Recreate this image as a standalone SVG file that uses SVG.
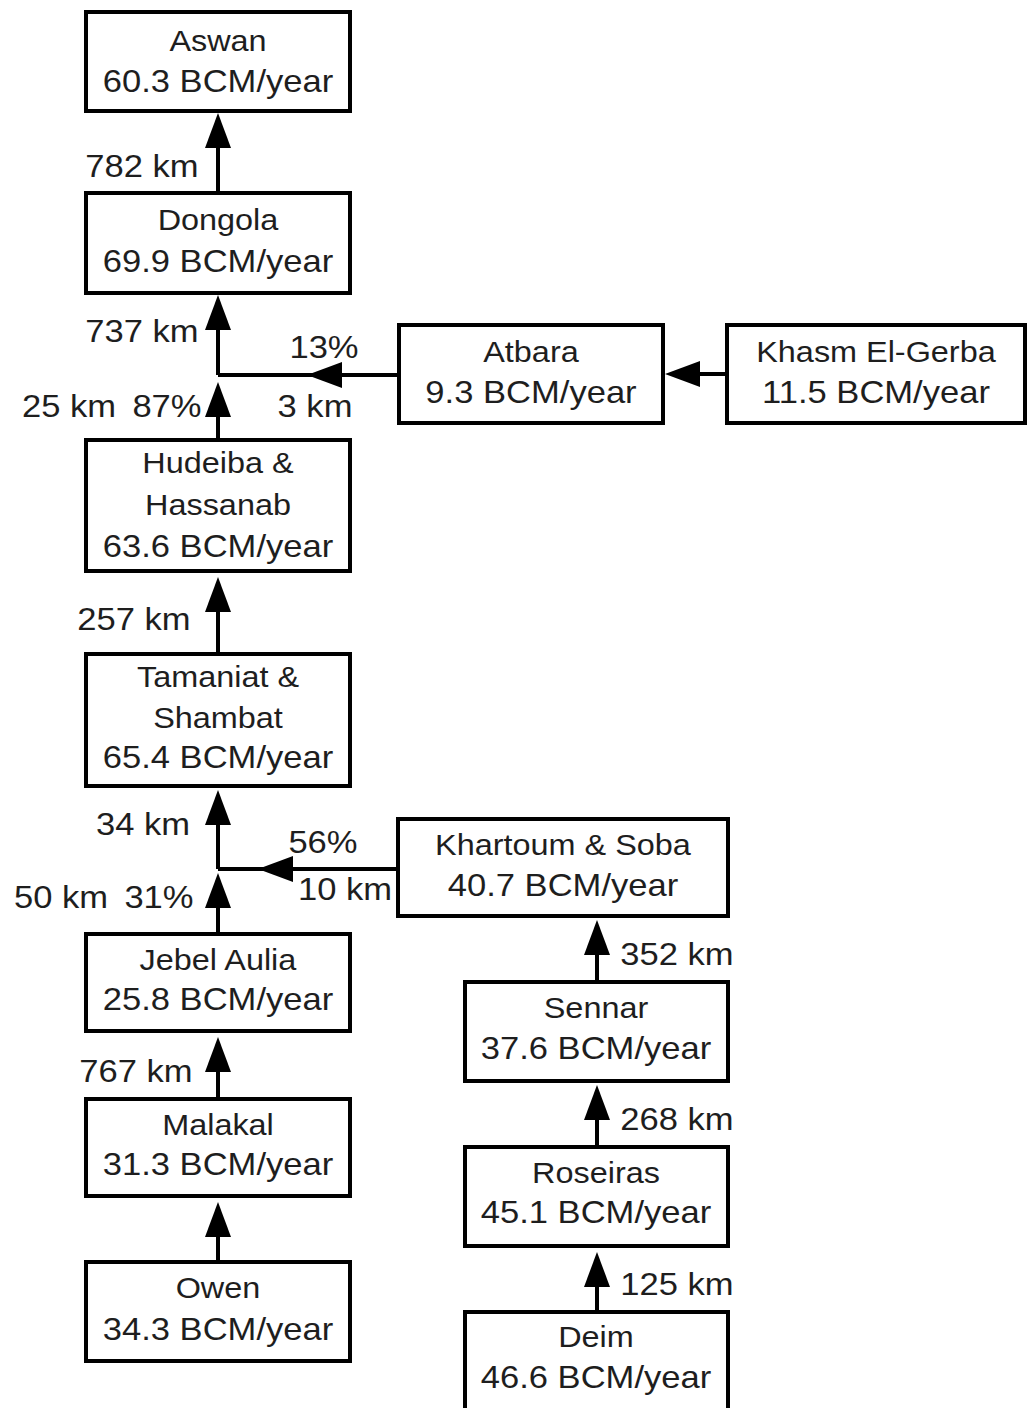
<svg xmlns="http://www.w3.org/2000/svg" width="1032" height="1408" viewBox="0 0 1032 1408">
<style>
  .box { fill: #ffffff; stroke: #000000; stroke-width: 4; }
  .ln { fill: none; stroke: #000000; stroke-width: 4; }
  text { font-family: "Liberation Sans", Arial, sans-serif; fill: #1e1e1e; transform-box: fill-box; transform-origin: center; transform: scaleX(1.08); }
  .nm { font-size: 30px; text-anchor: middle; }
  .val { font-size: 32px; text-anchor: middle; }
  .lbl { font-size: 32px; text-anchor: middle; }
</style>
<defs>
  <marker id="ah" viewBox="0 0 35 26" refX="0" refY="13" markerWidth="35" markerHeight="26" markerUnits="userSpaceOnUse" orient="auto">
    <path d="M0,0 L35,13 L0,26 z" fill="#000000"/>
  </marker>
</defs>
<rect width="1032" height="1408" fill="#ffffff"/>

<g id="connectors">
  <path class="ln" d="M218,191 L218,148" marker-end="url(#ah)"/>
  <path class="ln" d="M218,375 L218,330" marker-end="url(#ah)"/>
  <path class="ln" d="M218,438 L218,417" marker-end="url(#ah)"/>
  <path class="ln" d="M397,375 L342,375 L218,375" marker-mid="url(#ah)"/>
  <path class="ln" d="M725,374 L700,374" marker-end="url(#ah)"/>
  <path class="ln" d="M218,652 L218,612" marker-end="url(#ah)"/>
  <path class="ln" d="M218,869 L218,825" marker-end="url(#ah)"/>
  <path class="ln" d="M218,932 L218,908" marker-end="url(#ah)"/>
  <path class="ln" d="M396,869 L293,869 L218,869" marker-mid="url(#ah)"/>
  <path class="ln" d="M218,1097 L218,1072" marker-end="url(#ah)"/>
  <path class="ln" d="M218,1260 L218,1237" marker-end="url(#ah)"/>
  <path class="ln" d="M597,980 L597,955" marker-end="url(#ah)"/>
  <path class="ln" d="M597,1145 L597,1120" marker-end="url(#ah)"/>
  <path class="ln" d="M597,1310 L597,1287" marker-end="url(#ah)"/>
  <text class="lbl" x="142" y="177">782 km</text>
  <text class="lbl" x="142" y="342">737 km</text>
  <text class="lbl" x="324" y="358">13%</text>
  <text class="lbl" x="69" y="417">25 km</text>
  <text class="lbl" x="167" y="417">87%</text>
  <text class="lbl" x="315" y="417">3 km</text>
  <text class="lbl" x="134" y="630">257 km</text>
  <text class="lbl" x="143" y="835">34 km</text>
  <text class="lbl" x="323" y="853">56%</text>
  <text class="lbl" x="61" y="908">50 km</text>
  <text class="lbl" x="159" y="908">31%</text>
  <text class="lbl" x="345" y="900">10 km</text>
  <text class="lbl" x="136" y="1082">767 km</text>
  <text class="lbl" x="677" y="965">352 km</text>
  <text class="lbl" x="677" y="1130">268 km</text>
  <text class="lbl" x="677" y="1295">125 km</text>
</g>

<g id="aswan">
  <rect class="box" x="86" y="12" width="264" height="99"/>
  <text class="nm" x="218" y="51">Aswan</text>
  <text class="val" x="218" y="92">60.3 BCM/year</text>
</g>
<g id="dongola">
  <rect class="box" x="86" y="193" width="264" height="100"/>
  <text class="nm" x="218" y="230">Dongola</text>
  <text class="val" x="218" y="272">69.9 BCM/year</text>
</g>
<g id="atbara">
  <rect class="box" x="399" y="325" width="264" height="98"/>
  <text class="nm" x="531" y="362">Atbara</text>
  <text class="val" x="531" y="403">9.3 BCM/year</text>
</g>
<g id="khasm">
  <rect class="box" x="727" y="325" width="298" height="98"/>
  <text class="nm" x="876" y="362">Khasm El-Gerba</text>
  <text class="val" x="876" y="403">11.5 BCM/year</text>
</g>
<g id="hudeiba">
  <rect class="box" x="86" y="440" width="264" height="131"/>
  <text class="nm" x="218" y="473">Hudeiba &amp;</text>
  <text class="nm" x="218" y="515">Hassanab</text>
  <text class="val" x="218" y="557">63.6 BCM/year</text>
</g>
<g id="tamaniat">
  <rect class="box" x="86" y="654" width="264" height="132"/>
  <text class="nm" x="218" y="687">Tamaniat &amp;</text>
  <text class="nm" x="218" y="728">Shambat</text>
  <text class="val" x="218" y="768">65.4 BCM/year</text>
</g>
<g id="khartoum">
  <rect class="box" x="398" y="819" width="330" height="97"/>
  <text class="nm" x="563" y="855">Khartoum &amp; Soba</text>
  <text class="val" x="563" y="896">40.7 BCM/year</text>
</g>
<g id="jebel">
  <rect class="box" x="86" y="934" width="264" height="97"/>
  <text class="nm" x="218" y="970">Jebel Aulia</text>
  <text class="val" x="218" y="1010">25.8 BCM/year</text>
</g>
<g id="malakal">
  <rect class="box" x="86" y="1099" width="264" height="97"/>
  <text class="nm" x="218" y="1135">Malakal</text>
  <text class="val" x="218" y="1175">31.3 BCM/year</text>
</g>
<g id="owen">
  <rect class="box" x="86" y="1262" width="264" height="99"/>
  <text class="nm" x="218" y="1298">Owen</text>
  <text class="val" x="218" y="1340">34.3 BCM/year</text>
</g>
<g id="sennar">
  <rect class="box" x="465" y="982" width="263" height="99"/>
  <text class="nm" x="596" y="1018">Sennar</text>
  <text class="val" x="596" y="1059">37.6 BCM/year</text>
</g>
<g id="roseiras">
  <rect class="box" x="465" y="1147" width="263" height="99"/>
  <text class="nm" x="596" y="1183">Roseiras</text>
  <text class="val" x="596" y="1223">45.1 BCM/year</text>
</g>
<g id="deim">
  <rect class="box" x="465" y="1312" width="263" height="110"/>
  <text class="nm" x="596" y="1347">Deim</text>
  <text class="val" x="596" y="1388">46.6 BCM/year</text>
</g>
</svg>
